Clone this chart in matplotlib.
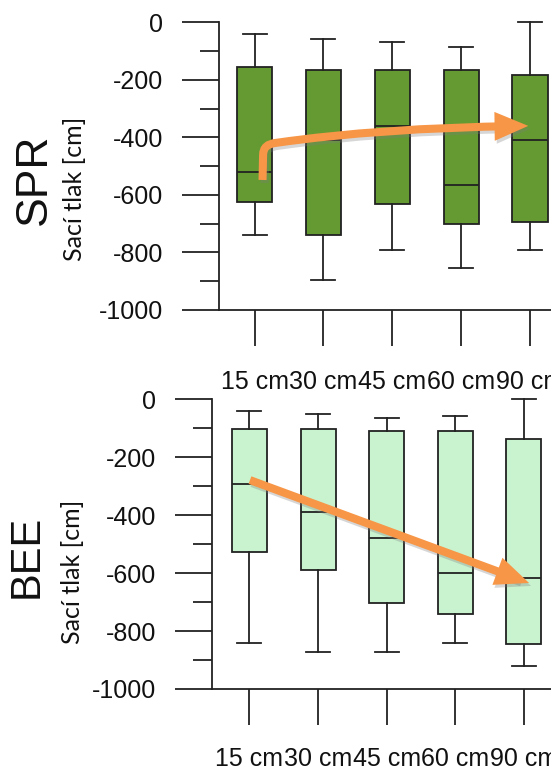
import numpy as np
import matplotlib
matplotlib.use("Agg")
import matplotlib.pyplot as plt
from matplotlib.patches import FancyArrowPatch
from matplotlib.path import Path
from matplotlib.ticker import MultipleLocator
from matplotlib.transforms import offset_copy

plt.rcParams["axes.unicode_minus"] = False

depths = ["15 cm", "30 cm", "45 cm", "60 cm", "90 cm"]

# SPR suction pressure per depth [cm]
spr_whishi = [-40, -58, -70, -87, 0]
spr_q3 = [-155, -167, -167, -167, -184]
spr_med = [-522, -410, -360, -567, -409]
spr_q1 = [-624, -741, -631, -700, -693]
spr_whislo = [-740, -895, -791, -854, -791]

# BEE suction pressure per depth [cm]
bee_whishi = [-40, -52, -63, -57, 0]
bee_q3 = [-104, -104, -109, -109, -138]
bee_med = [-291, -389, -480, -600, -618]
bee_q1 = [-526, -589, -702, -742, -846]
bee_whislo = [-840, -873, -873, -840, -920]

ARROW = "#F79646"
INK = "#222222"


def stats(lo, q1, med, q3, hi):
    return [dict(whislo=a, q1=b, med=c, q3=d, whishi=e, fliers=[])
            for a, b, c, d, e in zip(lo, q1, med, q3, hi)]


def panel(ax, st, face, xlim, pad_x):
    ax.bxp(st, positions=range(1, len(st) + 1), widths=0.51, capwidths=0.35,
           patch_artist=True, showfliers=False,
           boxprops=dict(facecolor=face, edgecolor=INK, linewidth=1.3),
           medianprops=dict(color=INK, linewidth=1.3),
           whiskerprops=dict(color=INK, linewidth=1.3),
           capprops=dict(color=INK, linewidth=1.3))
    for a in ax.lines + ax.patches:
        a.set_clip_on(False)
    ax.set_ylim(-1000, 0)
    ax.set_xlim(*xlim)
    ax.yaxis.set_major_locator(MultipleLocator(200))
    ax.yaxis.set_minor_locator(MultipleLocator(100))
    ax.set_xticks(range(1, len(depths) + 1))
    ax.set_xticklabels(depths)
    for s in ("top", "right"):
        ax.spines[s].set_visible(False)
    for s in ("left", "bottom"):
        ax.spines[s].set_linewidth(1.3)
        ax.spines[s].set_color(INK)
    ax.tick_params(axis="y", which="major", length=27, width=1.3, color=INK,
                   pad=13.5, labelsize=18)
    ax.tick_params(axis="y", which="minor", length=13.5, width=1.3, color=INK)
    ax.tick_params(axis="x", which="major", length=26, width=1.3, color=INK,
                   pad=pad_x, labelsize=18)
    for lab in ax.get_xticklabels() + ax.get_yticklabels():
        lab.set_fontfamily("Liberation Sans")
        lab.set_color("#111111")


def arrow(ax, shade, **kw):
    # soft drop shadow first, then the arrow itself
    style = "-|>,head_length=14,head_width=6"
    sh = FancyArrowPatch(arrowstyle=style, mutation_scale=1, color="#7a7a7a",
                         alpha=0.3, linewidth=5.8, capstyle="butt",
                         joinstyle="miter", zorder=4, clip_on=False,
                         transform=offset_copy(ax.transData, fig=ax.figure,
                                               x=2, y=-3, units="dots"), **kw)
    ax.add_patch(sh)
    ar = FancyArrowPatch(arrowstyle=style, mutation_scale=1, color=ARROW,
                         linewidth=5.8, capstyle="butt", joinstyle="miter",
                         zorder=5, clip_on=False, **kw)
    ax.add_patch(ar)


fig = plt.figure(figsize=(5.51, 7.68), dpi=100)
ax1 = fig.add_axes([0.3975, 0.5964, 0.6025, 0.3745])
ax2 = fig.add_axes([0.3853, 0.1029, 0.6147, 0.3772])

panel(ax1, stats(spr_whislo, spr_q1, spr_med, spr_q3, spr_whishi), "#659A33",
      (0.484, 5.305), 17)
panel(ax2, stats(bee_whislo, bee_q1, bee_med, bee_q3, bee_whishi), "#C9F2CF",
      (0.458, 5.394), 16)

# bent trend arrow over SPR
verts = [(1.116, -548), (1.124, -461), (1.124, -423), (1.313, -419),
         (2.824, -367), (4.975, -360)]
codes = [Path.MOVETO, Path.LINETO, Path.CURVE3, Path.CURVE3, Path.CURVE3, Path.CURVE3]
arrow(ax1, True, path=Path(verts, codes))

# straight trend arrow over BEE
arrow(ax2, True, posA=(1.007, -279), posB=(5.074, -634), shrinkA=0, shrinkB=0)

fig.text(0.0617, 0.767, "SPR", rotation=90, ha="center", va="center",
         fontsize=32, family="Liberation Sans", color="#111111")
fig.text(0.136, 0.754, "Sací tlak [cm]", rotation=90, ha="center", va="center",
         fontsize=18, family="Lato", color="#111111")
fig.text(0.049, 0.275, "BEE", rotation=90, ha="center", va="center",
         fontsize=30, family="Liberation Sans", color="#111111")
fig.text(0.1307, 0.255, "Sací tlak [cm]", rotation=90, ha="center", va="center",
         fontsize=18, family="Lato", color="#111111")

fig.savefig("out.png", dpi=100)
